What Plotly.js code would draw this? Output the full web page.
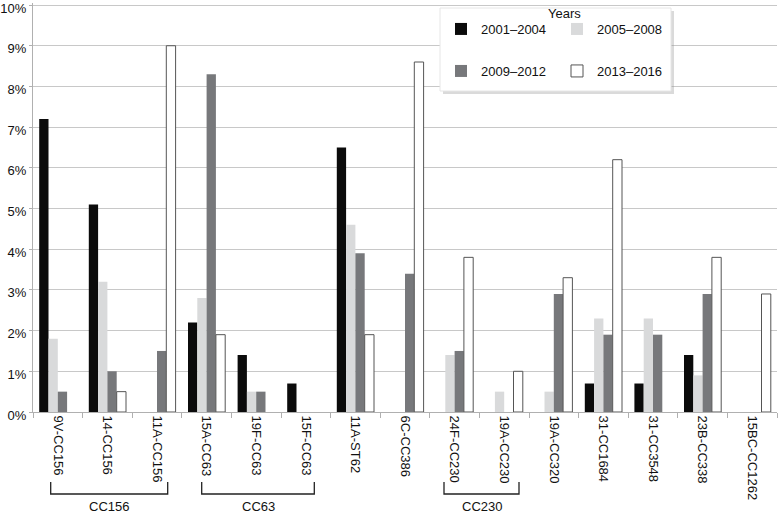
<!DOCTYPE html>
<html>
<head>
<meta charset="utf-8">
<script src="https://cdn.plot.ly/plotly-3.0.1.min.js"></script>
<style>html,body{margin:0;padding:0;background:#fff;}#chart{width:779px;height:513px;}</style>
</head>
<body>
<div id="chart"></div>
<script>
const categories = ["9V-CC156","14-CC156","11A-CC156","15A-CC63","19F-CC63","15F-CC63","11A-ST62","6C-CC386","24F-CC230","19A-CC230","19A-CC320","31-CC1684","31-CC3548","23B-CC338","15BC-CC1262"];
const seriesNames = ["2001–2004","2005–2008","2009–2012","2013–2016"];
const v2001_2004 = [7.2,5.1,0,2.2,1.4,0.7,6.5,0,0,0,0,0.7,0.7,1.4,0];
const v2005_2008 = [1.8,3.2,0,2.8,0.5,0,4.6,0,1.4,0.5,0.5,2.3,2.3,0.9,0];
const v2009_2012 = [0.5,1.0,1.5,8.3,0.5,0,3.9,3.4,1.5,0,2.9,1.9,1.9,2.9,0];
const v2013_2016 = [0,0.5,9.0,1.9,0,0,1.9,8.6,3.8,1.0,3.3,6.2,0,3.8,2.9];
const yTicks = [0,1,2,3,4,5,6,7,8,9,10];
const yTickText = yTicks.map(v => v + "%");
const groupLabels = ["CC156","CC63","CC230"];
const legendTitle = "Years";

const FONT = "Liberation Sans, Arial, sans-serif";
const colors = ["#0b0b0b","#d9dadb","#77787b","#ffffff"];
const values = [v2001_2004, v2005_2008, v2009_2012, v2013_2016];
const legends = ["legend","legend","legend2","legend2"];

const traces = values.map((vals, i) => ({
  type: "bar",
  name: seriesNames[i],
  x: categories,
  y: vals.map(v => v === 0 ? null : v),
  legend: legends[i],
  marker: {
    color: colors[i],
    line: {color: i === 3 ? "#555555" : colors[i], width: i === 3 ? 1 : 0}
  },
  hoverinfo: "x+y+name"
}));

// plot area: x 33..777, y (0%) 412 .. (10%) 5, top of range at 3
const Y0 = 412, H = 409;
const px = x => (x - 33) / 744;
const py = y => (Y0 - y) / H;
const brackets = [[px(50.7), px(167.7)], [px(201.7), px(314.3)], [px(444), px(519)]];
const bTop = py(482), bBot = py(494), labelY = py(506);
const shapes = [];
brackets.forEach(b => {
  shapes.push({type:"path", xref:"paper", yref:"paper",
    path:`M${b[0]},${bTop} L${b[0]},${bBot} L${b[1]},${bBot} L${b[1]},${bTop}`,
    line:{color:"#222", width:1.3}});
});
// legend box with shadow
shapes.push({type:"rect", xref:"paper", yref:"paper", layer:"above",
  x0:px(443), x1:px(674), y0:py(94), y1:py(11),
  fillcolor:"rgba(150,150,150,0.35)", line:{width:0}});
shapes.push({type:"rect", xref:"paper", yref:"paper", layer:"above",
  x0:px(440), x1:px(671), y0:py(91), y1:py(8),
  fillcolor:"#ffffff", line:{color:"#e6e6e6", width:1}});

const annotations = groupLabels.map((t, i) => ({
  xref:"paper", yref:"paper", x:(brackets[i][0]+brackets[i][1])/2, y:labelY,
  text:t, showarrow:false, font:{family:FONT, size:13, color:"#111"},
  xanchor:"center", yanchor:"middle"
}));
annotations.push({xref:"paper", yref:"paper", x:px(564), y:py(14), text:legendTitle,
  showarrow:false, font:{family:FONT, size:13, color:"#111"}, xanchor:"center", yanchor:"middle"});

const layout = {
  width: 779, height: 513,
  margin: {l:33, r:2, t:3, b:101},
  paper_bgcolor: "#fff", plot_bgcolor: "#fff",
  font: {family: FONT, size: 13, color: "#111"},
  barmode: "group", bargap: 0.25, bargroupgap: 0,
  xaxis: {
    type: "category", tickangle: 90, tickson: "boundaries",
    ticks: "outside", ticklen: 5, tickcolor: "#b0b0b0",
    showline: true, linecolor: "#b0b0b0", linewidth: 1,
    showgrid: false, tickfont: {family: FONT, size: 13, color: "#111"},
    fixedrange: true
  },
  yaxis: {
    range: [0, 10.05], tickmode: "array", tickvals: yTicks, ticktext: yTickText,
    ticklabeloverflow: "allow", ticklabelshift: 3,
    ticks: "outside", ticklen: 3, tickcolor: "#b0b0b0",
    showline: true, linecolor: "#b0b0b0", linewidth: 1,
    showgrid: true, gridcolor: "#c8c8c8", gridwidth: 1,
    zeroline: false, tickfont: {family: FONT, size: 13, color: "#111"},
    fixedrange: true
  },
  showlegend: true,
  legend: {
    orientation: "h", x: px(441), xanchor: "left", y: py(14), yanchor: "top",
    bgcolor: "rgba(0,0,0,0)", borderwidth: 0,
    entrywidth: 71, entrywidthmode: "pixels",
    font: {family: FONT, size: 13, color: "#111"}, traceorder: "normal"
  },
  legend2: {
    orientation: "h", x: px(441), xanchor: "left", y: py(56), yanchor: "top",
    bgcolor: "rgba(0,0,0,0)", borderwidth: 0,
    entrywidth: 71, entrywidthmode: "pixels",
    font: {family: FONT, size: 13, color: "#111"}, traceorder: "normal"
  },
  shapes: shapes,
  annotations: annotations
};

Plotly.newPlot("chart", traces, layout, {displayModeBar: false, staticPlot: true});
</script>
</body>
</html>
